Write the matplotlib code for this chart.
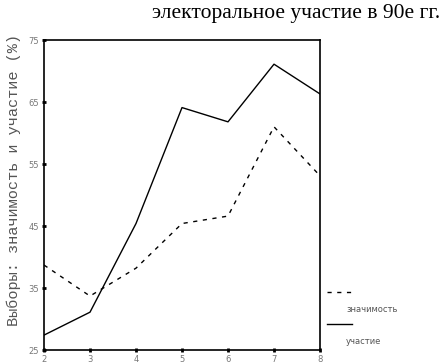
import matplotlib
matplotlib.use("Agg")
import matplotlib.pyplot as plt
from matplotlib.lines import Line2D

years = [2, 3, 4, 5, 6, 7, 8]
znachimost = [38.7, 33.7, 38.2, 45.4, 46.6, 61.0, 53.1]
uchastie = [27.4, 31.1, 45.4, 64.1, 61.8, 71.1, 66.3]
yticks = [25, 35, 45, 55, 65, 75]
title = "электоральное участие в 90е гг."
ylabel = "Выборы: значимость и участие (%)"
legend_labels = ["значимость", "участие"]

fig = plt.figure(figsize=(4.45, 3.63), dpi=100)
ax = fig.add_axes([44/445, 13/363, 276/445, 310/363])
ax.plot(years, znachimost, color="black", lw=1.0, linestyle=(0, (3, 4)))
ax.plot(years, uchastie, color="black", lw=1.0)
ax.set_xlim(2, 8)
ax.set_ylim(25, 75)
ax.set_xticks(years)
ax.set_yticks(yticks)
ax.tick_params(direction="inout", length=3, width=2, labelsize=6, labelcolor="#777777", pad=2)
for s in ax.spines.values():
    s.set_linewidth(1.2)
ax.set_ylabel(ylabel, family="Liberation Mono", fontsize=11, color="#555555")
ax.yaxis.set_label_coords(-0.085, 0.55)
fig.text(0.99, 0.99, title, family="Liberation Serif", fontsize=15.5, ha="right", va="top")

# legend
fig.add_artist(Line2D([327/445, 352/445], [1-292/363, 1-292/363], color="black", lw=1.0, linestyle=(0, (3, 4))))
fig.text(346/445, 1-310/363, legend_labels[0], fontsize=6, color="#555555", va="center")
fig.add_artist(Line2D([327/445, 352/445], [1-324/363, 1-324/363], color="black", lw=1.0))
fig.text(346/445, 1-342/363, legend_labels[1], fontsize=6, color="#555555", va="center")

fig.savefig("out.png", dpi=100)
